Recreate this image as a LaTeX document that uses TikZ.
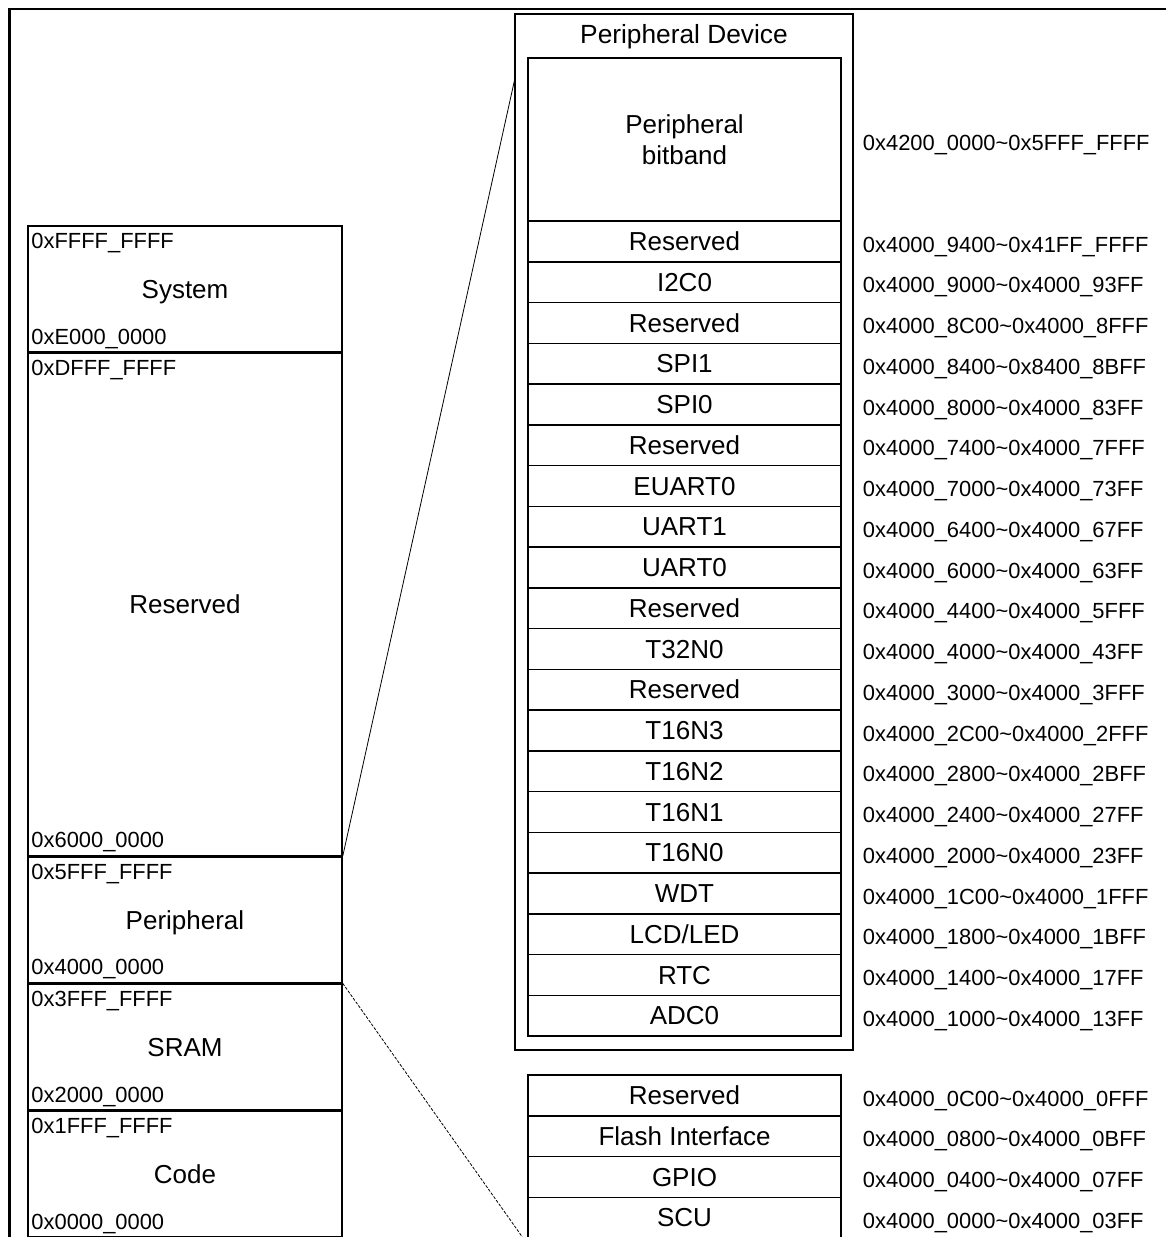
\documentclass[tikz,border=0pt]{standalone}
\usepackage{fontspec}
\setmainfont{Liberation Sans}
\usetikzlibrary{positioning}
\newcommand{\tld}{\textasciitilde}

\begin{document}
\begin{tikzpicture}[x=1pt,y=-1pt,
  reg/.style={draw,line width=1.5pt,minimum width=314pt,minimum height=125.75pt,inner sep=0pt,text height=18.6pt,text depth=0pt,font=\fontsize{26}{31}\selectfont},
  cell/.style={draw,line width=1.5pt,minimum width=313pt,minimum height=40.75pt,inner sep=0pt,text height=18.6pt,text depth=0pt,font=\fontsize{26}{31}\selectfont},
  adr/.style={inner sep=0pt,font=\fontsize{21.9}{24}\selectfont}]
\useasboundingbox (0,0) rectangle (1166,1237);
% frame
\draw[line width=2.5pt] (9.5,1240) -- (9.5,9) -- (1170,9);
% ---------- memory map ----------
\node[reg] (sys) at (185,289) {System};
\node[reg,minimum height=502pt,below=0pt of sys] (rsv) {Reserved};
\node[reg,below=0pt of rsv] (per) {Peripheral};
\node[reg,below=0pt of per] (sram) {SRAM};
\node[reg,below=0pt of sram] (code) {Code};
\foreach \n/\hi/\lo in {sys/0xFFFF\_FFFF/0xE000\_0000,rsv/0xDFFF\_FFFF/0x6000\_0000,
  per/0x5FFF\_FFFF/0x4000\_0000,sram/0x3FFF\_FFFF/0x2000\_0000,code/0x1FFF\_FFFF/0x0000\_0000}{
  \node[adr,anchor=base west] (\n-hi) at ([xshift=4pt,yshift=-23pt]\n.north west) {\hi};
  \node[adr,anchor=base west] (\n-lo) at ([xshift=4pt,yshift=8.5pt]\n.south west) {\lo};
}
% ---------- peripheral device ----------
\node[draw,line width=1.2pt,minimum width=338pt,minimum height=1036pt,inner sep=0pt] (dev) at (684,532) {};
\node[inner sep=0pt,text height=18.6pt,text depth=0pt,font=\fontsize{26.3}{31}\selectfont] (devt) at (684,34) {Peripheral Device};
\node[draw,line width=1.5pt,minimum width=313pt,minimum height=163pt,align=center,font=\fontsize{26}{31}\selectfont] (bb) at (684.5,139.5) {Peripheral\\bitband};
\node[adr,anchor=base west] (a0) at ([xshift=21pt,yshift=-10.7pt]bb.east) {0x4200\_0000\tld 0x5FFF\_FFFF};
\foreach \lab/\rng [count=\i] in {Reserved/0x4000\_9400\tld 0x41FF\_FFFF,I2C0/0x4000\_9000\tld 0x4000\_93FF,
  Reserved/0x4000\_8C00\tld 0x4000\_8FFF,SPI1/0x4000\_8400\tld 0x8400\_8BFF,SPI0/0x4000\_8000\tld 0x4000\_83FF,
  Reserved/0x4000\_7400\tld 0x4000\_7FFF,EUART0/0x4000\_7000\tld 0x4000\_73FF,UART1/0x4000\_6400\tld 0x4000\_67FF,
  UART0/0x4000\_6000\tld 0x4000\_63FF,Reserved/0x4000\_4400\tld 0x4000\_5FFF,T32N0/0x4000\_4000\tld 0x4000\_43FF,
  Reserved/0x4000\_3000\tld 0x4000\_3FFF,T16N3/0x4000\_2C00\tld 0x4000\_2FFF,T16N2/0x4000\_2800\tld 0x4000\_2BFF,
  T16N1/0x4000\_2400\tld 0x4000\_27FF,T16N0/0x4000\_2000\tld 0x4000\_23FF,WDT/0x4000\_1C00\tld 0x4000\_1FFF,
  {LCD/LED}/0x4000\_1800\tld 0x4000\_1BFF,RTC/0x4000\_1400\tld 0x4000\_17FF,ADC0/0x4000\_1000\tld 0x4000\_13FF}{
  \node[cell] (r\i) at (684.5,{200.625+40.75*\i}) {\lab};
  \node[adr,anchor=base west] (a\i) at ([xshift=21pt,yshift=-10.7pt]r\i.east) {\rng};
}
% ---------- low peripherals ----------
\foreach \lab/\rng [count=\i from 21] in {Reserved/0x4000\_0C00\tld 0x4000\_0FFF,
  Flash Interface/0x4000\_0800\tld 0x4000\_0BFF,GPIO/0x4000\_0400\tld 0x4000\_07FF,SCU/0x4000\_0000\tld 0x4000\_03FF}{
  \node[cell] (r\i) at (684.5,{1075+40.75*(\i-20.5)}) {\lab};
  \node[adr,anchor=base west] (a\i) at ([xshift=21pt,yshift=-10.7pt]r\i.east) {\rng};
}
% zoom lines
\coordinate (zt) at (515,78);
\coordinate (zb) at (528,1245);
\draw[line width=0.8pt] (rsv.south east) -- (zt);
\draw[line width=0.8pt,dash pattern=on 3pt off 1.5pt] (per.south east) -- (zb);
\end{tikzpicture}
\end{document}
